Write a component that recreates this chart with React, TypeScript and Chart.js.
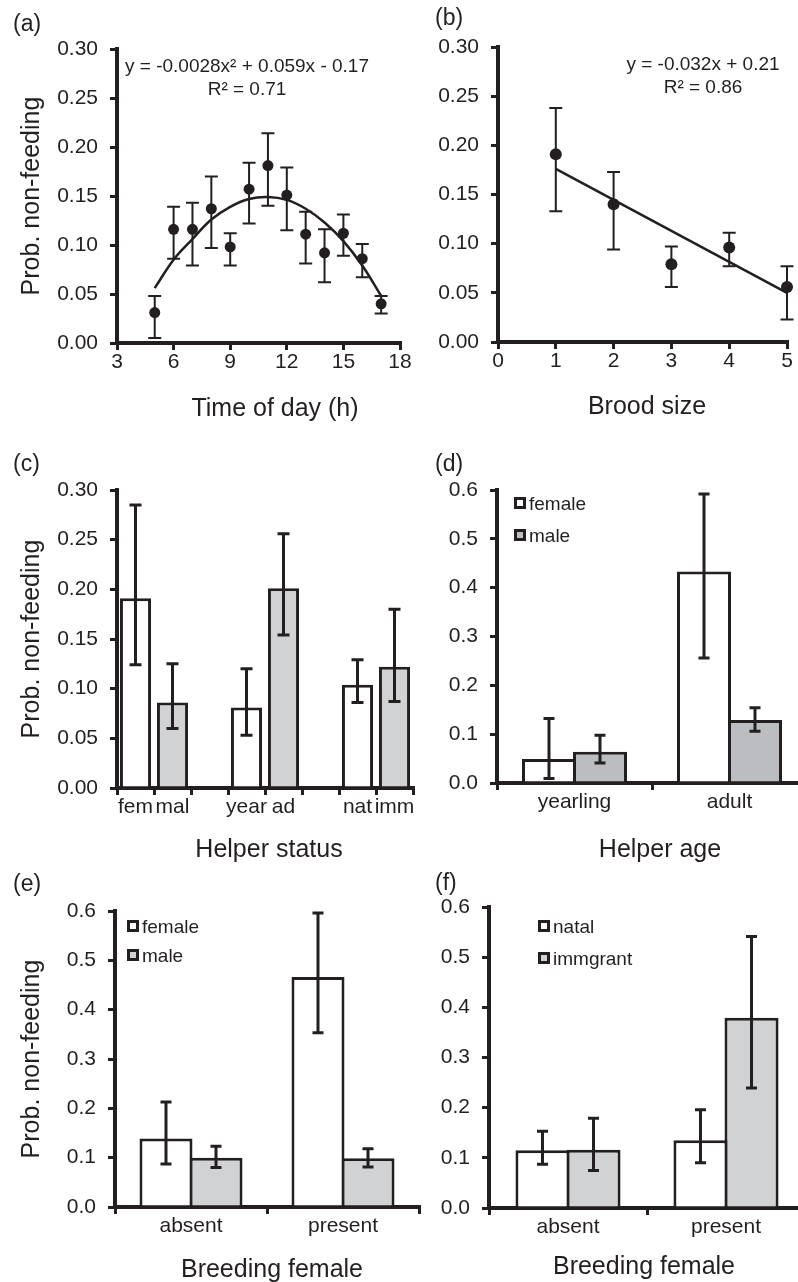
import React, { useEffect, useRef } from 'react';
import { Chart, registerables } from 'chart.js';

Chart.register(...registerables);

const INK = '#231f20';
const GRAY = '#d1d2d4';
const GRAY_D = '#bcbdc0';
const FONT = '"Liberation Sans", Arial, Helvetica, sans-serif';

// (a) Time of day
const hours = [5, 6, 7, 8, 9, 10, 11, 12, 13, 14, 15, 16, 17];
const hourMeans = [0.031, 0.116, 0.116, 0.137, 0.098, 0.157, 0.181, 0.151, 0.111, 0.092, 0.112, 0.086, 0.040];
const hourLow = [0.005, 0.086, 0.079, 0.097, 0.079, 0.122, 0.140, 0.115, 0.081, 0.062, 0.089, 0.067, 0.030];
const hourHigh = [0.048, 0.139, 0.143, 0.170, 0.112, 0.184, 0.214, 0.179, 0.134, 0.116, 0.131, 0.101, 0.048];
const hourFit = [0.056, 0.085, 0.106, 0.126, 0.139, 0.147, 0.149, 0.146, 0.137, 0.123, 0.104, 0.079, 0.048];
const hourEquation = ['y = -0.0028x² + 0.059x - 0.17', 'R² = 0.71'];

// (b) Brood size
const broodSizes = [1, 2, 3, 4, 5];
const broodMeans = [0.191, 0.140, 0.079, 0.096, 0.056];
const broodLow = [0.133, 0.094, 0.056, 0.077, 0.023];
const broodHigh = [0.238, 0.173, 0.097, 0.111, 0.077];
const broodFitX = [1, 5];
const broodFitY = [0.176, 0.050];
const broodEquation = ['y = -0.032x + 0.21', 'R² = 0.86'];

// (c) Helper status
const statusLabels = ['fem', 'mal', '', 'year', 'ad', '', 'nat', 'imm'];
const statusMeans = [0.191, 0.086, null, 0.081, 0.201, null, 0.104, 0.122];
const statusLow = [0.124, 0.060, null, 0.053, 0.154, null, 0.086, 0.087];
const statusHigh = [0.285, 0.125, null, 0.120, 0.256, null, 0.129, 0.180];
const statusShade = ['w', 'g', 'w', 'w', 'g', 'w', 'w', 'g'];

// (d) Helper age
const ageLabels = ['yearling', 'adult'];
const sexSeries = ['female', 'male'];
const ageFemale = [0.049, 0.433];
const ageFemaleLow = [0.009, 0.256];
const ageFemaleHigh = [0.132, 0.592];
const ageMale = [0.064, 0.129];
const ageMaleLow = [0.041, 0.106];
const ageMaleHigh = [0.098, 0.154];

// (e) Breeding female x sex
const breederLabels = ['absent', 'present'];
const bfFemale = [0.139, 0.466];
const bfFemaleLow = [0.087, 0.353];
const bfFemaleHigh = [0.213, 0.596];
const bfMale = [0.100, 0.099];
const bfMaleLow = [0.080, 0.081];
const bfMaleHigh = [0.123, 0.118];

// (f) Breeding female x origin
const originSeries = ['natal', 'immgrant'];
const bfNatal = [0.115, 0.135];
const bfNatalLow = [0.087, 0.090];
const bfNatalHigh = [0.153, 0.196];
const bfImm = [0.116, 0.379];
const bfImmLow = [0.075, 0.239];
const bfImmHigh = [0.179, 0.541];

const yTitle = 'Prob. non-feeding';

Chart.defaults.font.family = FONT;
Chart.defaults.color = INK;

const errBarPlugin = {
  id: 'errBars',
  afterDatasetsDraw(chart: any, _args: any, opts: any) {
    const items = (opts && opts.items) || [];
    const ctx = chart.ctx;
    const yS = chart.scales.y;
    ctx.save();
    ctx.strokeStyle = INK;
    for (const it of items) {
      const meta = chart.getDatasetMeta(it.dataset);
      ctx.lineWidth = it.width;
      it.low.forEach((lo: number | null, j: number) => {
        const hi = it.high[j];
        if (lo == null || hi == null) return;
        const el = meta.data[j];
        if (!el) return;
        const x = el.x;
        const y1 = yS.getPixelForValue(lo);
        const y2 = yS.getPixelForValue(hi);
        ctx.beginPath();
        ctx.moveTo(x, y1);
        ctx.lineTo(x, y2);
        ctx.moveTo(x - it.cap, y1);
        ctx.lineTo(x + it.cap, y1);
        ctx.moveTo(x - it.cap, y2);
        ctx.lineTo(x + it.cap, y2);
        ctx.stroke();
      });
    }
    ctx.restore();
  },
};

const gridOpts = (offset: boolean) => ({
  display: true,
  drawOnChartArea: false,
  drawTicks: true,
  tickLength: 7,
  tickWidth: 3,
  tickColor: INK,
  color: INK,
  lineWidth: 3,
  offset,
});

const borderOpts = { display: true, color: INK, width: 4 };

function yScale(max: number, step: number, decimals: number, axisWidth: number, title?: string) {
  return {
    type: 'linear',
    min: 0,
    max,
    z: 1,
    ticks: {
      stepSize: step,
      padding: 12,
      color: INK,
      font: { size: 21 },
      callback: (v: any) => Number(v).toFixed(decimals),
    },
    grid: gridOpts(false),
    border: borderOpts,
    title: title
      ? { display: true, text: title, color: INK, font: { size: 25 }, padding: { top: 17, bottom: 0 } }
      : { display: false },
    afterFit: (s: any) => {
      s.width = axisWidth;
    },
  };
}

function xLinear(min: number, max: number, step: number, axisHeight: number) {
  return {
    type: 'linear',
    min,
    max,
    z: 1,
    ticks: { stepSize: step, padding: 0, color: INK, font: { size: 21 }, maxRotation: 0 },
    grid: gridOpts(false),
    border: borderOpts,
    afterFit: (s: any) => {
      s.height = axisHeight;
    },
  };
}

function xCategory(axisHeight: number) {
  return {
    type: 'category',
    offset: true,
    z: 1,
    ticks: { padding: 0, color: INK, font: { size: 21 }, autoSkip: false, maxRotation: 0, minRotation: 0 },
    grid: gridOpts(true),
    border: borderOpts,
    afterFit: (s: any) => {
      s.height = axisHeight;
    },
  };
}

function baseOptions(padding: any, scales: any, errItems: any[]) {
  return {
    responsive: false,
    animation: false,
    events: [],
    layout: { padding },
    scales,
    plugins: {
      legend: { display: false },
      tooltip: { enabled: false },
      title: { display: false },
      errBars: { items: errItems },
    },
  };
}

const configA = {
  type: 'scatter',
  data: {
    datasets: [
      {
        label: 'mean',
        data: hours.map((h, i) => ({ x: h, y: hourMeans[i] })),
        pointRadius: 5.5,
        pointBackgroundColor: INK,
        pointBorderWidth: 0,
        showLine: false,
        clip: false,
      },
      {
        label: 'fit',
        data: hours.map((h, i) => ({ x: h, y: hourFit[i] })),
        showLine: true,
        pointRadius: 0,
        borderColor: INK,
        borderWidth: 2.5,
        tension: 0.4,
        clip: false,
      },
    ],
  },
  options: baseOptions(
    { left: 0, top: 49, right: 30, bottom: 0 },
    { x: xLinear(3, 18, 3, 77), y: yScale(0.3, 0.05, 2, 117, yTitle) },
    [{ dataset: 0, low: hourLow, high: hourHigh, cap: 6.5, width: 2 }]
  ),
  plugins: [errBarPlugin],
};

const configB = {
  type: 'scatter',
  data: {
    datasets: [
      {
        label: 'mean',
        data: broodSizes.map((b, i) => ({ x: b, y: broodMeans[i] })),
        pointRadius: 6,
        pointBackgroundColor: INK,
        pointBorderWidth: 0,
        showLine: false,
        clip: false,
      },
      {
        label: 'fit',
        data: broodFitX.map((b, i) => ({ x: b, y: broodFitY[i] })),
        showLine: true,
        pointRadius: 0,
        borderColor: INK,
        borderWidth: 2.5,
        clip: false,
      },
    ],
  },
  options: baseOptions(
    { left: 0, top: 47, right: 11, bottom: 0 },
    { x: xLinear(0, 5, 1, 78), y: yScale(0.3, 0.05, 2, 98) },
    [{ dataset: 0, low: broodLow, high: broodHigh, cap: 6.5, width: 2 }]
  ),
  plugins: [errBarPlugin],
};

const configC = {
  type: 'bar',
  data: {
    labels: statusLabels,
    datasets: [
      {
        label: 'status',
        data: statusMeans,
        backgroundColor: statusShade.map((s) => (s === 'g' ? GRAY : '#ffffff')),
        borderColor: INK,
        borderWidth: 3,
        borderSkipped: 'start',
        categoryPercentage: 1,
        barPercentage: 0.84,
      },
    ],
  },
  options: baseOptions(
    { left: 0, top: 70, right: 17, bottom: 0 },
    { x: xCategory(52), y: yScale(0.3, 0.05, 2, 117, yTitle) },
    [{ dataset: 0, low: statusLow, high: statusHigh, cap: 6, width: 3 }]
  ),
  plugins: [errBarPlugin],
};

function pairConfig(
  labels: string[],
  names: string[],
  a: number[],
  b: number[],
  grayB: string,
  padding: any,
  yW: number,
  xH: number,
  catPct: number,
  barPct: number,
  title: string | undefined,
  err: any[]
) {
  const ds = (name: string, data: number[], fill: string) => ({
    label: name,
    data,
    backgroundColor: fill,
    borderColor: INK,
    borderWidth: 3,
    borderSkipped: 'start',
    categoryPercentage: catPct,
    barPercentage: barPct,
  });
  return {
    type: 'bar',
    data: { labels, datasets: [ds(names[0], a, '#ffffff'), ds(names[1], b, grayB)] },
    options: baseOptions(padding, { x: xCategory(xH), y: yScale(0.6, 0.1, 1, yW, title) }, err),
    plugins: [errBarPlugin],
  };
}

const configD = pairConfig(
  ageLabels, sexSeries, ageFemale, ageMale, GRAY_D,
  { left: 0, top: 70, right: 13, bottom: 0 }, 97, 57, 0.658, 1.0588, undefined,
  [
    { dataset: 0, low: ageFemaleLow, high: ageFemaleHigh, cap: 5.5, width: 3 },
    { dataset: 1, low: ageMaleLow, high: ageMaleHigh, cap: 5.5, width: 3 },
  ]
);

const configE = pairConfig(
  breederLabels, sexSeries, bfFemale, bfMale, GRAY,
  { left: 0, top: 71, right: 21, bottom: 0 }, 115, 75, 0.658, 1.06, yTitle,
  [
    { dataset: 0, low: bfFemaleLow, high: bfFemaleHigh, cap: 5.5, width: 3 },
    { dataset: 1, low: bfMaleLow, high: bfMaleHigh, cap: 5.5, width: 3 },
  ]
);

const configF = pairConfig(
  breederLabels, originSeries, bfNatal, bfImm, GRAY,
  { left: 0, top: 67, right: 15, bottom: 0 }, 89, 74, 0.646, 1.059, undefined,
  [
    { dataset: 0, low: bfNatalLow, high: bfNatalHigh, cap: 5.5, width: 3 },
    { dataset: 1, low: bfImmLow, high: bfImmHigh, cap: 5.5, width: 3 },
  ]
);

function Panel({ left, top, width, height, config }: any) {
  const ref = useRef<HTMLCanvasElement>(null);
  useEffect(() => {
    const chart = new Chart(ref.current as HTMLCanvasElement, config as any);
    return () => chart.destroy();
  }, [config]);
  return (
    <div style={{ position: 'absolute', left, top, width, height }}>
      <canvas ref={ref} width={width} height={height} style={{ width, height, display: 'block' }} />
    </div>
  );
}

function Txt({ x, y, size, children, align = 'center' }: any) {
  return (
    <div
      style={{
        position: 'absolute',
        left: x,
        top: y,
        transform: align === 'center' ? 'translate(-50%, -50%)' : 'translate(0, -50%)',
        fontSize: size,
        lineHeight: 1,
        fontFamily: FONT,
        color: INK,
        whiteSpace: 'nowrap',
      }}
    >
      {children}
    </div>
  );
}

function LegendItem({ x, y, fill, label }: any) {
  return (
    <>
      <div
        style={{
          position: 'absolute',
          left: x,
          top: y - 6,
          width: 12,
          height: 12,
          boxSizing: 'border-box',
          border: `3px solid ${INK}`,
          background: fill,
        }}
      />
      <Txt x={x + 15} y={y} size={19} align="left">
        {label}
      </Txt>
    </>
  );
}

export default function App() {
  return (
    <div
      style={{
        position: 'absolute',
        left: 0,
        top: 0,
        width: 798,
        height: 1282,
        overflow: 'hidden',
        background: '#ffffff',
        fontFamily: FONT,
      }}
    >
      <Panel left={0} top={0} width={430} height={420} config={configA} />
      <Panel left={400} top={0} width={398} height={420} config={configB} />
      <Panel left={0} top={420} width={430} height={420} config={configC} />
      <Panel left={400} top={420} width={420} height={420} config={configD} />
      <Panel left={0} top={840} width={440} height={442} config={configE} />
      <Panel left={400} top={840} width={420} height={442} config={configF} />

      <Txt x={13} y={23} size={23} align="left">(a)</Txt>
      <Txt x={435} y={17} size={23} align="left">(b)</Txt>
      <Txt x={13} y={463} size={23} align="left">(c)</Txt>
      <Txt x={435} y={463} size={23} align="left">(d)</Txt>
      <Txt x={13} y={883} size={23} align="left">(e)</Txt>
      <Txt x={435} y={882} size={23} align="left">(f)</Txt>

      <Txt x={275} y={407} size={25}>Time of day (h)</Txt>
      <Txt x={647} y={405} size={25}>Brood size</Txt>
      <Txt x={269} y={848} size={25}>Helper status</Txt>
      <Txt x={660} y={848} size={25}>Helper age</Txt>
      <Txt x={272} y={1268} size={25}>Breeding female</Txt>
      <Txt x={644} y={1265} size={25}>Breeding female</Txt>

      <Txt x={247} y={65} size={19}>{hourEquation[0]}</Txt>
      <Txt x={247} y={88} size={19}>{hourEquation[1]}</Txt>
      <Txt x={703} y={63} size={19}>{broodEquation[0]}</Txt>
      <Txt x={703} y={86} size={19}>{broodEquation[1]}</Txt>

      <LegendItem x={514} y={503} fill="#ffffff" label={sexSeries[0]} />
      <LegendItem x={514} y={535} fill={GRAY_D} label={sexSeries[1]} />
      <LegendItem x={127} y={926} fill="#ffffff" label={sexSeries[0]} />
      <LegendItem x={127} y={955} fill={GRAY} label={sexSeries[1]} />
      <LegendItem x={538} y={926} fill="#ffffff" label={originSeries[0]} />
      <LegendItem x={538} y={958} fill={GRAY} label={originSeries[1]} />
    </div>
  );
}
